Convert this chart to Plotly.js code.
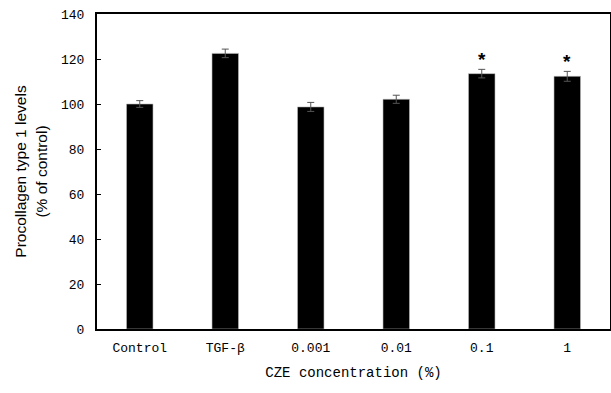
<!DOCTYPE html>
<html>
<head>
<meta charset="utf-8">
<script src="https://cdn.plot.ly/plotly-3.0.1.min.js"></script>
<style>html,body{margin:0;padding:0;background:#fff;}#chart{width:611px;height:393px;}</style>
</head>
<body>
<div id="chart"></div>
<script>
const categories = ["Control", "TGF-β", "0.001", "0.01", "0.1", "1"];
const values = [100, 122.5, 98.7, 102.1, 113.5, 112.3];
const errors = [1.5, 1.9, 2.0, 1.8, 1.9, 2.2];
const significant = [false, false, false, false, true, true];
const yTicks = [0, 20, 40, 60, 80, 100, 120, 140];

const monoFont = "Liberation Mono, DejaVu Sans Mono, monospace";

const trace = {
  type: "bar",
  x: categories,
  y: values,
  marker: {color: "#000000", line: {color: "#bbbbbb", width: 0.6}},
  error_y: {type: "data", array: errors, visible: true, color: "#555555", thickness: 1, width: 3.5},
  hoverinfo: "none"
};

const annotations = [];
categories.forEach((c, i) => {
  if (significant[i]) {
    annotations.push({
      x: i, y: values[i] + errors[i] + 4.5, xref: "x", yref: "y",
      text: "<b>*</b>", showarrow: false,
      font: {family: "Liberation Sans, Arial, sans-serif", size: 19, color: "#000"},
      yanchor: "middle"
    });
  }
});

const layout = {
  width: 611, height: 393,
  margin: {l: 97, r: 1, t: 14, b: 64},
  paper_bgcolor: "#fff", plot_bgcolor: "#fff",
  showlegend: false,
  bargap: 0.69,
  xaxis: {
    type: "category",
    showline: true, linecolor: "#000", linewidth: 2, mirror: true,
    ticks: "", showgrid: false, zeroline: false,
    tickfont: {family: monoFont, size: 13, color: "#000"},
    ticklabelstandoff: 5,
    title: {text: "CZE concentration (%)", font: {family: monoFont, size: 14, color: "#000"}, standoff: 13}
  },
  yaxis: {
    range: [0, 140],
    tickvals: yTicks,
    showline: true, linecolor: "#000", linewidth: 2, mirror: true,
    ticks: "inside", ticklen: 4, tickwidth: 1, tickcolor: "#000",
    showgrid: false, zeroline: false,
    tickfont: {family: monoFont, size: 13, color: "#000"},
    ticklabelstandoff: 8,
    title: {text: "Procollagen type 1 levels<br>(% of control)", font: {family: "Liberation Sans, Arial, sans-serif", size: 15.5, color: "#000"}, standoff: 10}
  },
  annotations: annotations
};

Plotly.newPlot("chart", [trace], layout, {displayModeBar: false, staticPlot: true});
</script>
</body>
</html>
